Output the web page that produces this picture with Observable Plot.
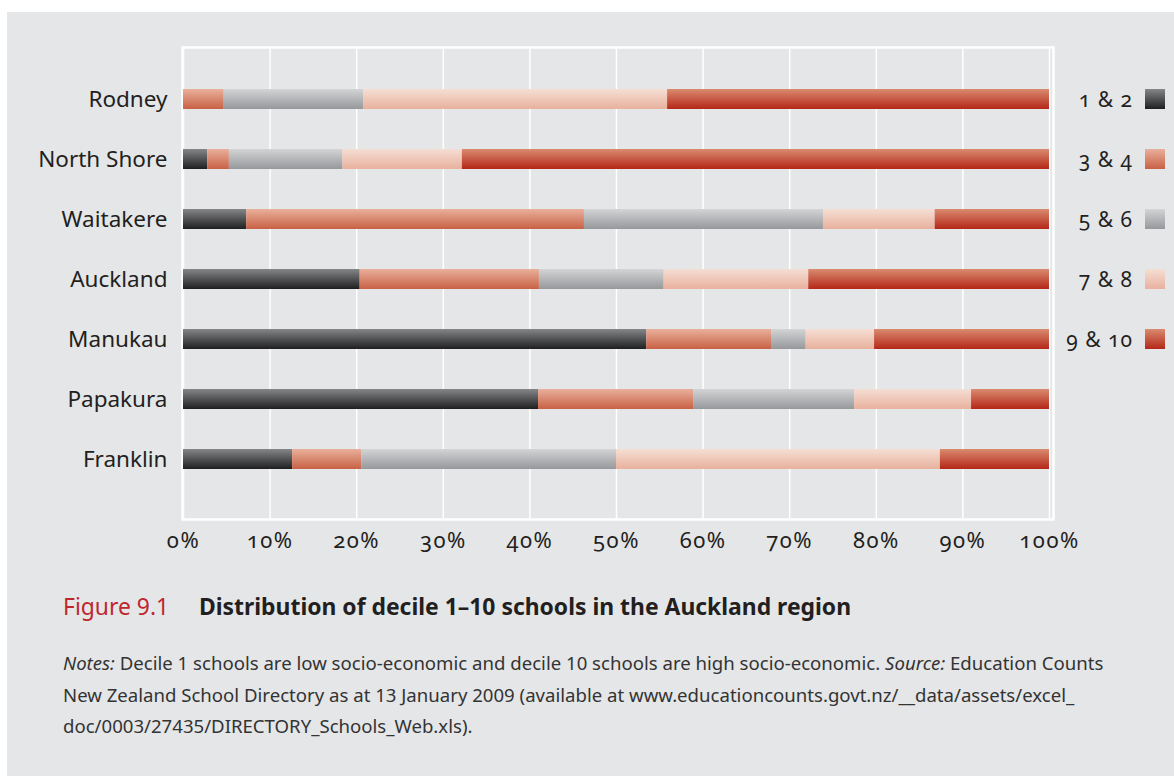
<!DOCTYPE html>
<html>
<head>
<meta charset="utf-8">
<script src="https://cdn.jsdelivr.net/npm/d3@7"></script>
<script src="https://cdn.jsdelivr.net/npm/@observablehq/plot@0.6"></script>
<style>
  html, body { margin: 0; padding: 0; background: #ffffff; width: 1174px; height: 776px; overflow: hidden; }
  #panel { position: absolute; left: 7px; top: 12px; width: 1167px; height: 764px; background: #e5e6e8; }
  #chart { position: absolute; left: 0; top: 0; }
  .leg { position: absolute; left: 1010px; width: 155px; height: 20px; display: flex; justify-content: flex-end; align-items: center; gap: 12px;
         font-family: "Noto Sans", sans-serif; font-size: 21px; letter-spacing: 1px; color: #231f20; font-variant-numeric: oldstyle-nums; }
  .leg .sw { width: 20px; height: 20px; }
  #caption { position: absolute; left: 63px; top: 591px; width: 1100px; font-family: "Noto Sans", sans-serif; color: #231f20; }
  #title { font-size: 22.9px; line-height: 32px; white-space: nowrap; }
  #title .fig { color: #c0272d; display: inline-block; width: 136px; }
  #title .ttl { font-weight: 700; }
  #notes { margin-top: 24px; font-size: 18.6px; line-height: 31.5px; color: #333; white-space: nowrap; }
</style>
</head>
<body>
<div id="panel"></div>
<div id="chart"></div>
<div id="legend"></div>
<div id="caption">
  <div id="title"><span class="fig">Figure 9.1</span><span class="ttl">Distribution of decile 1–10 schools in the Auckland region</span></div>
  <div id="notes"><i>Notes:</i> Decile 1 schools are low socio-economic and decile 10 schools are high socio-economic. <i>Source:</i> Education Counts<br>New Zealand School Directory as at 13 January 2009 (available at www.educationcounts.govt.nz/__data/assets/excel_<br>doc/0003/27435/DIRECTORY_Schools_Web.xls).</div>
</div>
<script>
// ---- data (percent of schools in each decile group) ----
const regions = ["Rodney", "North Shore", "Waitakere", "Auckland", "Manukau", "Papakura", "Franklin"];
const deciles = ["1 & 2", "3 & 4", "5 & 6", "7 & 8", "9 & 10"];
const rodney     = [0.0, 4.7, 16.1, 35.1, 44.1];
const northShore = [2.8, 2.5, 13.1, 13.8, 67.8];
const waitakere  = [7.3, 39.0, 27.6, 12.9, 13.2];
const auckland   = [20.4, 20.7, 14.4, 16.7, 27.8];
const manukau    = [53.5, 14.4, 4.0, 7.9, 20.2];
const papakura   = [41.0, 17.9, 18.6, 13.5, 9.0];
const franklin   = [12.6, 8.0, 29.4, 37.4, 12.6];
const xTicks = [0, 10, 20, 30, 40, 50, 60, 70, 80, 90, 100];
// gradient stops per decile group (top, bottom)
const gradTop    = ["#858688", "#e9b09b", "#d3d4d6", "#f5ded4", "#d98b70"];
const gradBottom = ["#1f1f20", "#c86145", "#97989b", "#e8b19d", "#b52718"];

const series = [rodney, northShore, waitakere, auckland, manukau, papakura, franklin];
const rows = [];
regions.forEach((r, i) => deciles.forEach((d, j) => rows.push({region: r, decile: d, value: series[i][j]})));

const chart = Plot.plot({
  width: 1174,
  height: 560,
  marginTop: 47,
  marginBottom: 41,
  marginLeft: 182,
  marginRight: 121,
  style: {background: "transparent", color: "#231f20", fontFamily: "Noto Sans, sans-serif"},
  x: {domain: [0, 100], insetLeft: 1, insetRight: 4},
  y: {domain: regions, paddingInner: 2 / 3, paddingOuter: 1 / 3, insetTop: 22, insetBottom: 30},
  color: {domain: deciles, range: deciles.map((d, i) => `url(#grad${i})`)},
  marks: [
    Plot.ruleX(xTicks, {stroke: "#ffffff", strokeWidth: 1.5}),
    Plot.frame({stroke: "#ffffff", strokeWidth: 2.5}),
    Plot.barX(rows, {x: "value", y: "region", fill: "decile", order: deciles}),
    Plot.axisX({ticks: xTicks, tickFormat: d => d + "%", tickSize: 0, tickPadding: 13, fontSize: 22, label: null}),
    Plot.axisY({tickSize: 0, tickPadding: 15, fontSize: 22.5, label: null})
  ]
});

const svg = d3.select(chart);
const defs = svg.insert("defs", ":first-child");
deciles.forEach((d, i) => {
  const g = defs.append("linearGradient").attr("id", `grad${i}`).attr("x1", 0).attr("y1", 0).attr("x2", 0).attr("y2", 1);
  g.append("stop").attr("offset", "0%").attr("stop-color", gradTop[i]);
  g.append("stop").attr("offset", "100%").attr("stop-color", gradBottom[i]);
});
svg.selectAll("g[aria-label='x-axis tick label'] text")
  .style("font-variant-numeric", "oldstyle-nums")
  .style("letter-spacing", "1.5px");
document.getElementById("chart").appendChild(chart);

// legend rows aligned with the chart's own y scale
const yScale = chart.scale("y");
const legend = document.getElementById("legend");
deciles.forEach((d, i) => {
  const row = document.createElement("div");
  row.className = "leg";
  row.style.top = (yScale.apply(regions[i])) + "px";
  row.innerHTML = `<span>${d}</span><span class="sw" style="background:linear-gradient(${gradTop[i]}, ${gradBottom[i]})"></span>`;
  legend.appendChild(row);
});
</script>
</body>
</html>
